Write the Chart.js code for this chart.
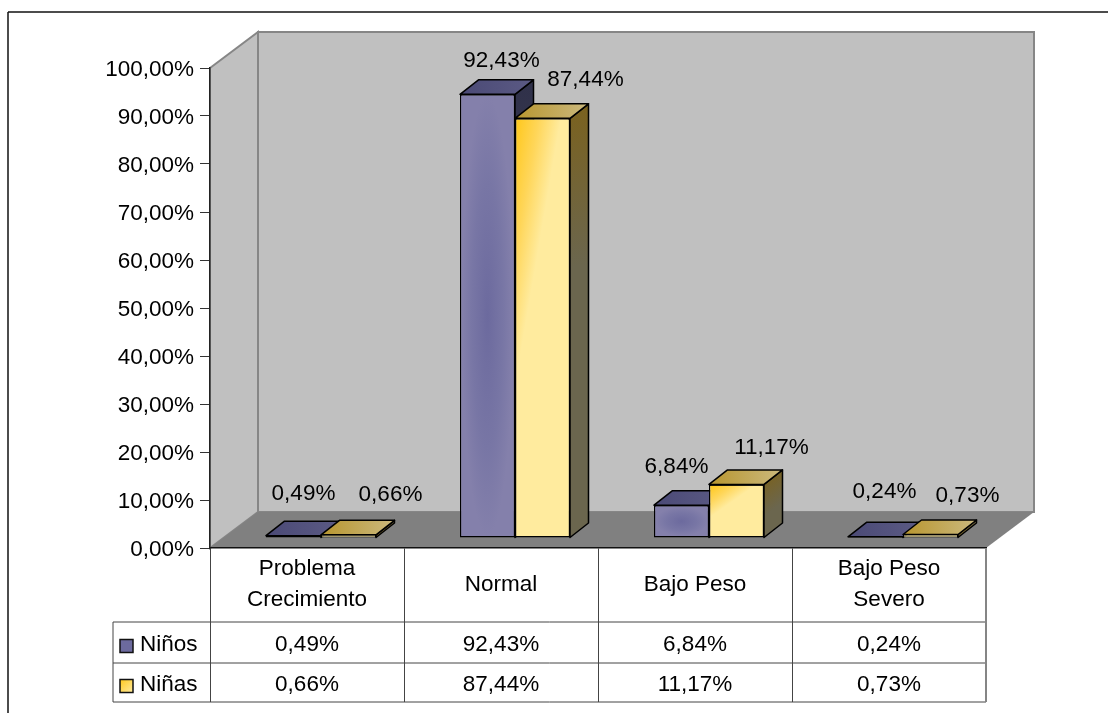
<!DOCTYPE html>
<html lang="es">
<head>
<meta charset="utf-8">
<title>Estado nutricional</title>
<script src="https://cdn.jsdelivr.net/npm/chart.js@4/dist/chart.umd.min.js"></script>
<style>
    html, body { margin: 0; padding: 0; background: #ffffff; }
    canvas { display: block; }
</style>
</head>
<body>
<canvas id="nutritionChart" width="1108" height="713"></canvas>
<script>
// Chart values
const categories = [['Problema', 'Crecimiento'], 'Normal', 'Bajo Peso', ['Bajo Peso', 'Severo']];
const seriesNames = ['Niños', 'Niñas'];
const ninos = [0.49, 92.43, 6.84, 0.24];
const ninas = [0.66, 87.44, 11.17, 0.73];
const yTicks = [0, 10, 20, 30, 40, 50, 60, 70, 80, 90, 100];

// Where each value label sits, relative to the top centre of its bar
const ninosLabelNudge = [[10, -42], [14, -34], [-5, -38], [9, -45]];
const ninasLabelNudge = [[42, -40], [43, -38], [35, -37], [37, -39]];

const FONT = '"Liberation Sans", Arial, sans-serif';
const FONT_SIZE = 22.5;

// 3D look: how far the depth goes and how far the bars stand off the axis
const DEPTH_X = 48, DEPTH_Y = 36;
const BAR_DEPTH_X = 18.5, BAR_DEPTH_Y = 14.5;
const BAR_SHIFT_X = 14, BAR_SHIFT_Y = -10;
const BAR_LINE = 1.5;

const PURPLE = { front: '#8480ab', centre: '#6c6a9e', top: ['#4b4a76', '#5b5a84'], side: ['#30314a', '#3b3c50'] };
const YELLOW = { front: '#ffeb9e', corner: '#ffc81e', top: ['#b8962f', '#cbb97e'], side: ['#7a6220', '#6b664e'] };

function formatPercent(value) {
    return value.toFixed(2).replace('.', ',') + '%';
}

function polygon(ctx, points) {
    ctx.beginPath();
    points.forEach(function(p, i) {
        if (i === 0) ctx.moveTo(p[0], p[1]);
        else ctx.lineTo(p[0], p[1]);
    });
    ctx.closePath();
}

function twoColorGradient(ctx, x0, y0, x1, y1, colors) {
    const g = ctx.createLinearGradient(x0, y0, x1, y1);
    g.addColorStop(0, colors[0]);
    g.addColorStop(1, colors[1]);
    return g;
}

// Top and side faces of one bar
function drawBarDepth(ctx, el, palette) {
    const left = el.x - el.width / 2;
    const right = el.x + el.width / 2;
    const height = el.base - el.y;
    ctx.lineWidth = BAR_LINE;
    ctx.lineJoin = 'round';
    ctx.strokeStyle = '#000000';

    polygon(ctx, [[right, el.y], [right + BAR_DEPTH_X, el.y - BAR_DEPTH_Y],
        [right + BAR_DEPTH_X, el.base - BAR_DEPTH_Y], [right, el.base]]);
    ctx.fillStyle = twoColorGradient(ctx, right, el.y - BAR_DEPTH_Y / 2,
        right + BAR_DEPTH_X, el.y + height * 0.35, palette.side);
    ctx.fill();
    ctx.stroke();

    polygon(ctx, [[left, el.y], [left + BAR_DEPTH_X, el.y - BAR_DEPTH_Y],
        [right + BAR_DEPTH_X, el.y - BAR_DEPTH_Y], [right, el.y]]);
    ctx.fillStyle = twoColorGradient(ctx, left, 0, right + BAR_DEPTH_X, 0, palette.top);
    ctx.fill();
    ctx.stroke();
}

// Darker patch in the middle of a purple bar face
function shadePurple(ctx, x, y, w, h) {
    ctx.save();
    ctx.translate(x + w / 2, y + h / 2);
    ctx.scale(w / 2, h / 2);
    const g = ctx.createRadialGradient(0, 0, 0, 0, 0, 1);
    g.addColorStop(0, PURPLE.centre);
    g.addColorStop(0.6, '#7876a5');
    g.addColorStop(1, PURPLE.front);
    ctx.fillStyle = g;
    ctx.fillRect(-1, -1, 2, 2);
    ctx.restore();
}

// Orange running off the top left corner of a yellow bar face
function shadeYellow(ctx, x, y, w, h) {
    const reachX = w * 0.85;
    const reachY = h * 0.62;
    const d = reachX * reachX + reachY * reachY;
    const g = ctx.createLinearGradient(x, y,
        x + reachX * reachY * reachY / d, y + reachX * reachX * reachY / d);
    g.addColorStop(0, YELLOW.corner);
    g.addColorStop(0.5, '#ffd659');
    g.addColorStop(1, YELLOW.front);
    ctx.fillStyle = g;
    ctx.fillRect(x, y, w, h);
}

function shadeBarFace(ctx, el, shade) {
    const left = el.x - el.width / 2 + BAR_LINE;
    const top = el.y + BAR_LINE;
    const w = el.width - BAR_LINE * 2;
    const h = el.base - el.y - BAR_LINE * 2;
    // Flat bars are only a thin strip, too small to shade
    if (h <= 4) return;
    shade(ctx, left, top, w, h);
}

function drawLine(ctx, x0, y0, x1, y1, color, width) {
    ctx.strokeStyle = color;
    ctx.lineWidth = width;
    ctx.beginPath();
    ctx.moveTo(x0, y0);
    ctx.lineTo(x1, y1);
    ctx.stroke();
}

// Background frame and the walls and floor of the 3D box
const chartBox = {
    id: 'chartBox',
    beforeDraw: function(chart) {
        const ctx = chart.ctx;
        const area = chart.chartArea;
        const baseY = chart.scales.y.getPixelForValue(0);

        ctx.save();
        ctx.fillStyle = '#ffffff';
        ctx.fillRect(0, 0, chart.width, chart.height);
        drawLine(ctx, 8, 12, chart.width, 12, '#111111', 1.5);
        drawLine(ctx, 8, 12, 8, chart.height, '#111111', 1.5);

        ctx.strokeStyle = '#868686';
        ctx.lineWidth = 2;
        ctx.lineJoin = 'miter';

        polygon(ctx, [[area.left, area.top], [area.left + DEPTH_X, area.top - DEPTH_Y],
            [area.left + DEPTH_X, baseY - DEPTH_Y], [area.left, baseY]]);
        ctx.fillStyle = '#c0c0c0';
        ctx.fill();
        ctx.stroke();

        polygon(ctx, [[area.left + DEPTH_X, area.top - DEPTH_Y], [area.right + DEPTH_X, area.top - DEPTH_Y],
            [area.right + DEPTH_X, baseY - DEPTH_Y], [area.left + DEPTH_X, baseY - DEPTH_Y]]);
        ctx.fill();
        ctx.stroke();

        polygon(ctx, [[area.left, baseY], [area.left + DEPTH_X, baseY - DEPTH_Y],
            [area.right + DEPTH_X, baseY - DEPTH_Y], [area.right, baseY]]);
        ctx.fillStyle = '#808080';
        ctx.fill();
        ctx.restore();
    },
    beforeDatasetsDraw: function(chart) {
        const ctx = chart.ctx;
        ctx.save();
        // Bars stand on the floor, in front of the back wall
        ctx.translate(BAR_SHIFT_X, BAR_SHIFT_Y);
        [PURPLE, YELLOW].forEach(function(palette, i) {
            chart.getDatasetMeta(i).data.forEach(function(el) {
                drawBarDepth(ctx, el, palette);
            });
        });
    },
    afterDatasetsDraw: function(chart) {
        const ctx = chart.ctx;
        chart.getDatasetMeta(0).data.forEach(function(el) { shadeBarFace(ctx, el, shadePurple); });
        chart.getDatasetMeta(1).data.forEach(function(el) { shadeBarFace(ctx, el, shadeYellow); });
        ctx.restore();

        // Value labels
        ctx.save();
        ctx.font = FONT_SIZE + 'px ' + FONT;
        ctx.fillStyle = '#000000';
        ctx.textAlign = 'center';
        ctx.textBaseline = 'middle';
        [[ninos, ninosLabelNudge], [ninas, ninasLabelNudge]].forEach(function(series, i) {
            chart.getDatasetMeta(i).data.forEach(function(el, j) {
                const nudge = series[1][j];
                ctx.fillText(formatPercent(series[0][j]),
                    el.x + BAR_SHIFT_X + nudge[0], el.y + BAR_SHIFT_Y + nudge[1]);
            });
        });
        ctx.restore();
    }
};

// Data table under the x axis
const dataTable = {
    id: 'dataTable',
    afterDraw: function(chart) {
        const ctx = chart.ctx;
        const area = chart.chartArea;
        const rowLines = [622, 663, 702];
        const rowCentres = [644.5, 684.5];
        const tableLeft = 113;

        ctx.save();
        rowLines.forEach(function(y) {
            drawLine(ctx, tableLeft, y, area.right, y, '#444444', 1);
        });
        drawLine(ctx, tableLeft, rowLines[0], tableLeft, rowLines[2], '#444444', 1);
        drawLine(ctx, area.right, area.bottom, area.right, rowLines[2], '#858585', 2);

        ctx.font = FONT_SIZE + 'px ' + FONT;
        ctx.fillStyle = '#000000';
        ctx.textBaseline = 'middle';

        [ninos, ninas].forEach(function(values, i) {
            const y = rowCentres[i];

            // Legend key and series name
            ctx.strokeStyle = '#111111';
            ctx.lineWidth = 1.5;
            ctx.fillStyle = PURPLE.centre;
            if (i === 1) {
                ctx.fillStyle = twoColorGradient(ctx, 120, y - 5, 133, y + 8, [YELLOW.corner, YELLOW.front]);
            }
            ctx.fillRect(120, y - 5, 13, 13);
            ctx.strokeRect(120, y - 5, 13, 13);

            ctx.fillStyle = '#000000';
            ctx.textAlign = 'left';
            ctx.fillText(seriesNames[i], 140, y);

            ctx.textAlign = 'center';
            values.forEach(function(v, j) {
                ctx.fillText(formatPercent(v), chart.scales.x.getPixelForValue(j), y);
            });
        });
        ctx.restore();
    }
};

new Chart(document.getElementById('nutritionChart'), {
    type: 'bar',
    data: {
        labels: categories,
        datasets: [
            { label: seriesNames[0], data: ninos, backgroundColor: PURPLE.front },
            { label: seriesNames[1], data: ninas, backgroundColor: YELLOW.front }
        ]
    },
    options: {
        responsive: false,
        animation: false,
        clip: false,
        layout: { padding: { top: 68, right: 122, left: 0, bottom: 0 } },
        plugins: {
            legend: { display: false },
            title: { display: false },
            tooltip: { enabled: false }
        },
        datasets: {
            bar: {
                categoryPercentage: 0.567,
                barPercentage: 1,
                borderColor: '#000000',
                // Thinner outline on the flat bars so their colour still shows
                borderWidth: function(context) {
                    return context.raw < 2 ? 1 : BAR_LINE;
                },
                borderSkipped: false,
                inflateAmount: 0
            }
        },
        scales: {
            x: {
                afterFit: function(scale) { scale.height = 165; },
                border: { color: '#111111', width: 1.5 },
                grid: { offset: true, drawOnChartArea: false, tickLength: 154, color: '#444444', lineWidth: 1 },
                ticks: {
                    color: '#000000',
                    autoSkip: false,
                    maxRotation: 0,
                    crossAlign: 'center',
                    padding: -133,
                    font: { family: FONT, size: FONT_SIZE, lineHeight: 1.36 }
                }
            },
            y: {
                min: 0,
                max: 100,
                afterFit: function(scale) { scale.width = 210; },
                afterBuildTicks: function(scale) {
                    scale.ticks = yTicks.map(function(v) { return { value: v }; });
                },
                border: { color: '#222222', width: 1.5 },
                grid: { drawOnChartArea: false, tickLength: 10, color: '#333333', lineWidth: 1 },
                ticks: {
                    color: '#000000',
                    padding: 6,
                    labelOffset: 2,
                    font: { family: FONT, size: FONT_SIZE },
                    callback: function(value) { return formatPercent(value); }
                }
            }
        }
    },
    plugins: [chartBox, dataTable]
});
</script>
</body>
</html>
